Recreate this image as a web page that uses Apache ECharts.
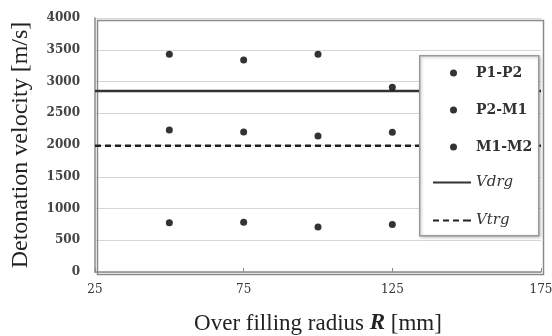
<!DOCTYPE html>
<html><head><meta charset="utf-8">
<script src="https://cdn.jsdelivr.net/npm/echarts@6/dist/echarts.min.js"></script>
<style>html,body{margin:0;padding:0;background:#fff}#c{width:552px;height:336px}</style>
</head><body><div id="c"></div>
<script>
const radii = [50, 75, 100, 125];
const p1p2 = [3430, 3340, 3430, 2910];
const p2m1 = [2235, 2205, 2140, 2200];
const m1m2 = [775, 785, 710, 750];
const vdrg = 2850;
const vtrg = 1990;
const xRange = [25, 175];
const yTicks = [0, 500, 1000, 1500, 2000, 2500, 3000, 3500, 4000];

const font = 'Liberation Serif';
const labelFont = 'DejaVu Serif';
const pts = arr => radii.map((r, i) => [r, arr[i]]);
const chart = echarts.init(document.getElementById('c'), null, {renderer: 'canvas'});
chart.setOption({
  backgroundColor: '#fff',
  animation: false,
  textStyle: {fontFamily: font},
  grid: {left: 95, right: 11, top: 18, bottom: 64, outerBoundsMode: 'none', containLabel: false},
  xAxis: {
    type: 'value', min: xRange[0], max: xRange[1], interval: 50,
    axisLine: {show: true, lineStyle: {color: '#8a8a8a', width: 1.5}},
    axisTick: {show: true, inside: true, length: 4, lineStyle: {color: '#8a8a8a'}},
    splitLine: {show: false},
    axisLabel: {color: '#333', fontSize: 12, fontFamily: labelFont, margin: 12},
    name: '{a|Over filling radius }{b|R}{a| [mm]}',
    nameLocation: 'middle', nameGap: 40,
    nameTextStyle: {rich: {a: {fontSize: 23, fontFamily: font, color: '#222'}, b: {fontSize: 23, fontFamily: font, fontStyle: 'italic', fontWeight: 'bold', color: '#222'}}}
  },
  yAxis: {
    type: 'value', min: yTicks[0], max: yTicks[yTicks.length - 1], interval: 500,
    axisLine: {show: true, lineStyle: {color: '#8a8a8a', width: 1.5}},
    axisTick: {show: false},
    splitLine: {show: true, lineStyle: {color: '#d9d5d5', width: 1}},
    axisLabel: {color: '#444', fontSize: 12, fontFamily: labelFont, fontWeight: 'bold', margin: 15, formatter: v => String(v)},
    name: 'Detonation velocity [m/s]',
    nameLocation: 'middle', nameGap: 62,
    nameTextStyle: {fontSize: 24, fontFamily: font, color: '#222'}
  },
  graphic: [
    {type: 'rect', left: 95, top: 18, shape: {width: 446, height: 254}, style: {fill: 'none', stroke: '#8a8a8a', lineWidth: 1.5}, z: 5, silent: true},
    {type: 'rect', left: 419, top: 55, shape: {width: 119, height: 180}, style: {fill: '#fff', stroke: '#9a9a9a', lineWidth: 1.5, shadowBlur: 3, shadowColor: 'rgba(0,0,0,0.25)', shadowOffsetX: 1, shadowOffsetY: 1}, z: 50, silent: true}
  ],
  legend: [
    {
      data: ['P1-P2', 'P2-M1', 'M1-M2'], orient: 'vertical', left: 450, top: 66, padding: 0,
      itemWidth: 7, itemHeight: 7, itemGap: 23, icon: 'circle', z: 60,
      textStyle: {fontFamily: labelFont, fontSize: 14, fontWeight: 'bold', color: '#333', padding: [0, 0, 0, 14]}
    },
    {
      data: [
        {name: 'Vdrg', icon: 'path://M0,0h38v2h-38z'},
        {name: 'Vtrg', icon: 'path://M0,0h6v2h-6z M10,0h6v2h-6z M20,0h6v2h-6z M30,0h8v2h-8z'}
      ],
      orient: 'vertical', left: 433, top: 175, padding: 0,
      itemWidth: 38, itemHeight: 2, itemGap: 23, z: 60,
      textStyle: {fontFamily: labelFont, fontSize: 15, fontStyle: 'italic', color: '#333'}
    }
  ],
  series: [
    {name: 'P1-P2', type: 'scatter', data: pts(p1p2), symbol: 'circle', symbolSize: 7, itemStyle: {color: '#000'}, z: 10},
    {name: 'P2-M1', type: 'scatter', data: pts(p2m1), symbol: 'circle', symbolSize: 7, itemStyle: {color: '#000'}, z: 10},
    {name: 'M1-M2', type: 'scatter', data: pts(m1m2), symbol: 'circle', symbolSize: 7, itemStyle: {color: '#000'}, z: 10},
    {name: 'Vdrg', type: 'line', data: [[xRange[0], vdrg], [xRange[1], vdrg]], symbol: 'none', lineStyle: {color: '#333', width: 2.5}, itemStyle: {color: '#333'}, z: 8},
    {name: 'Vtrg', type: 'line', data: [[xRange[0], vtrg], [xRange[1], vtrg]], symbol: 'none', lineStyle: {color: '#222', width: 2.5, type: [6, 4]}, itemStyle: {color: '#222'}, z: 8}
  ]
});
</script></body></html>
